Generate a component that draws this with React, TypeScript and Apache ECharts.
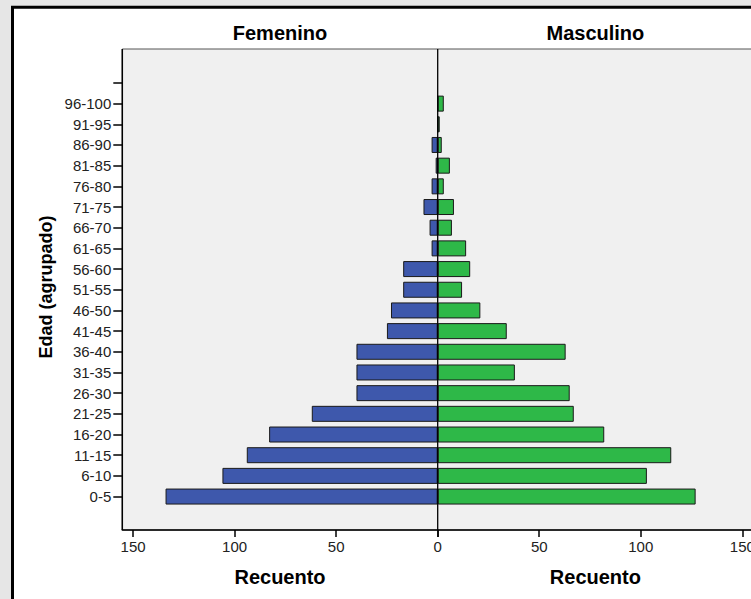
import React, { useEffect, useRef } from "react";
import * as echarts from "echarts";

const categories = [
  "0-5", "6-10", "11-15", "16-20", "21-25", "26-30", "31-35", "36-40", "41-45", "46-50",
  "51-55", "56-60", "61-65", "66-70", "71-75", "76-80", "81-85", "86-90", "91-95", "96-100", "",
];
const femenino = [134, 106, 94, 83, 62, 40, 40, 40, 25, 23, 17, 17, 3, 4, 7, 3, 1, 3, 0, 0];
const masculino = [127, 103, 115, 82, 67, 65, 38, 63, 34, 21, 12, 16, 14, 7, 8, 3, 6, 2, 1, 3];
const tickValues = [0, 50, 100, 150];
const leftLabelValues = [50, 100, 150];
const panelTitles = ["Femenino", "Masculino"];
const xTitle = "Recuento";
const yTitle = "Edad (agrupado)";

const FONT = 'Arial, "Liberation Sans", sans-serif';

export default function App() {
  const ref = useRef<HTMLDivElement>(null);

  useEffect(() => {
    if (!ref.current) return;
    const chart = echarts.init(ref.current, undefined, { renderer: "svg" });

    const plotLeft = 122.3;
    const plotTop = 49;
    const plotBottom = 530;
    const center = 437.7;
    const panelW = 315.4;
    const innerTop = 72.6;
    const innerH = 434.3;
    const axisMax = 155.3;
    const xOffset = plotBottom - (innerTop + innerH);

    const xAxisCommon = {
      type: "value" as const,
      min: 0,
      max: axisMax,
      offset: xOffset,
      splitLine: { show: false },
      axisLine: { show: true, onZero: false, lineStyle: { color: "#000", width: 1.5 } },
      axisTick: { show: true, length: 7, customValues: tickValues, lineStyle: { color: "#000", width: 1.5 } },
      name: xTitle,
      nameLocation: "middle" as const,
      nameGap: 47,
      nameTextStyle: { fontWeight: "bold", fontSize: 20, color: "#000", verticalAlign: "middle", fontFamily: FONT },
    };

    chart.setOption({
      animation: false,
      backgroundColor: "#e6e6e6",
      textStyle: { fontFamily: FONT },
      grid: [
        { left: plotLeft, top: innerTop, width: panelW, height: innerH, containLabel: false, outerBoundsMode: "none" },
        { left: center, top: innerTop, width: panelW, height: innerH, containLabel: false, outerBoundsMode: "none" },
      ],
      xAxis: [
        {
          ...xAxisCommon,
          gridIndex: 0,
          inverse: true,
          axisLabel: { customValues: leftLabelValues, fontSize: 15, color: "#222", margin: 9, fontFamily: FONT },
        },
        {
          ...xAxisCommon,
          gridIndex: 1,
          axisLabel: { customValues: tickValues, fontSize: 15, color: "#222", margin: 9, fontFamily: FONT },
        },
      ],
      yAxis: [
        {
          gridIndex: 0,
          type: "category",
          data: categories,
          position: "left",
          axisLine: { show: false, onZero: false },
          axisTick: { show: true, alignWithLabel: true, interval: 0, length: 9, lineStyle: { color: "#000", width: 1.5 } },
          axisLabel: { interval: 0, fontSize: 15, color: "#222", margin: 11, fontFamily: FONT },
        },
        {
          gridIndex: 1,
          type: "category",
          data: categories,
          position: "right",
          show: false,
          axisLine: { show: false, onZero: false },
          axisTick: { show: false, length: 0 },
          axisLabel: { show: false },
          splitLine: { show: false },
        },
      ],
      series: [
        {
          name: panelTitles[0],
          type: "bar",
          xAxisIndex: 0,
          yAxisIndex: 0,
          data: femenino,
          barWidth: 16,
          itemStyle: { color: "#3e58ac", borderColor: "#1a1a1a", borderWidth: 1 },
        },
        {
          name: panelTitles[1],
          type: "bar",
          xAxisIndex: 1,
          yAxisIndex: 1,
          data: masculino,
          barWidth: 16,
          itemStyle: { color: "#2eb848", borderColor: "#1a1a1a", borderWidth: 1 },
        },
      ],
      graphic: {
        elements: [
          {
            type: "rect",
            z: -100,
            shape: { x: 12.5, y: 7.3, width: 900, height: 800 },
            style: { fill: "#ffffff", stroke: "#000", lineWidth: 3 },
          },
          {
            type: "rect",
            z: -90,
            shape: { x: plotLeft, y: plotTop, width: 700, height: plotBottom - plotTop },
            style: { fill: "#f0f0f0", stroke: "#555", lineWidth: 1 },
          },
          {
            type: "line",
            z: -80,
            shape: { x1: plotLeft, y1: plotTop, x2: plotLeft, y2: plotBottom },
            style: { stroke: "#000", lineWidth: 1.5 },
          },
          {
            type: "line",
            z: 100,
            shape: { x1: center, y1: plotTop, x2: center, y2: plotBottom },
            style: { stroke: "#000", lineWidth: 1.3 },
          },
          {
            type: "text",
            z: 100,
            x: plotLeft + panelW / 2,
            y: 32.5,
            style: { text: panelTitles[0], fontSize: 20, fontWeight: "bold", fill: "#000", align: "center", verticalAlign: "middle", fontFamily: FONT },
          },
          {
            type: "text",
            z: 100,
            x: center + panelW / 2,
            y: 32.5,
            style: { text: panelTitles[1], fontSize: 20, fontWeight: "bold", fill: "#000", align: "center", verticalAlign: "middle", fontFamily: FONT },
          },
          {
            type: "text",
            z: 100,
            x: 46,
            y: 287,
            rotation: Math.PI / 2,
            style: { text: yTitle, fontSize: 18, fontWeight: "bold", fill: "#000", align: "center", verticalAlign: "middle", fontFamily: FONT },
          },
        ],
      },
    });

    return () => chart.dispose();
  }, []);

  return (
    <div
      ref={ref}
      style={{ position: "absolute", left: 0, top: 0, width: 751, height: 599 }}
    />
  );
}
